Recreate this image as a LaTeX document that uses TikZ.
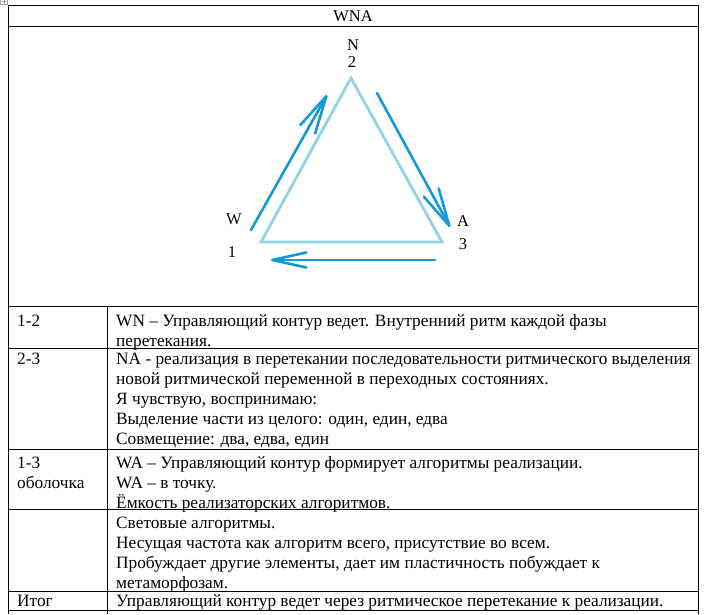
\documentclass[tikz,border=0pt]{standalone}
\usepackage{fontspec}
\setmainfont{Liberation Serif}
\usetikzlibrary{arrows.meta}
\definecolor{tri}{HTML}{90D4E4}
\definecolor{arr}{HTML}{139AD8}
\newcommand\cellbox[2]{\parbox[t]{#1}{\fontsize{17.3}{20}\selectfont\raggedright #2}}
\tikzset{
  grid/.style={draw=black, line width=1pt},
  txt/.style={inner sep=0pt, anchor=base west},
  lbl/.style={inner sep=0pt, anchor=base, font=\fontsize{16.5}{18}\selectfont},
  triline/.style={draw=tri, line width=2.8pt, line join=miter},
  flow/.style={draw=arr, line width=2.6pt, line cap=round, -{Straight Barb[length=38pt,width=17pt,round]}},
  flowb/.style={draw=arr, line width=2.6pt, line cap=round, -{Straight Barb[length=34pt,width=15pt,round]}}
}
\begin{document}
\begin{tikzpicture}[x=1pt,y=-1pt]
\useasboundingbox (0,0) rectangle (704,614);
\fill[white] (0,0) rectangle (704,614);
% table move handle
\draw[gray!70, line width=0.6pt] (0.5,-1) rectangle (7,4);
\draw[gray!80, line width=0.5pt] (2,1.5) -- (5.5,1.5) (3.75,0) -- (3.75,3.5);
% table grid
\draw[grid] (8,5.5) -- (698,5.5);
\draw[grid] (8,26) -- (698,26);
\draw[grid] (8,306) -- (698,306);
\draw[grid] (8,348) -- (698,348);
\draw[grid] (8,449) -- (698,449);
\draw[grid] (8,509) -- (698,509);
\draw[grid] (8,591) -- (698,591);
\draw[grid] (8,610) -- (698,610);
\draw[grid] (8,5) -- (8,614);
\draw[grid] (698,5) -- (698,614);
\draw[grid] (107,306) -- (107,614);
% header
\node[lbl] (wna) at (353,21.5) {WNA};
% triangle
\coordinate (v2) at (351,78);
\coordinate (v1) at (261,242);
\coordinate (v3) at (442,242);
\draw[triline] (v1) -- (v2) -- (v3) -- cycle;
% arrows
\coordinate (a1s) at (251,230);
\coordinate (a1e) at (327,95);
\coordinate (a2s) at (377,93);
\coordinate (a2e) at (450,227);
\coordinate (a3s) at (435,260);
\coordinate (a3e) at (271,260);
\draw[flow] (a1s) -- (a1e);
\draw[flow] (a2s) -- (a2e);
\draw[flowb] (a3s) -- (a3e);
% vertex labels
\node[lbl] (lN) at (353,50) {N};
\node[lbl] (l2) at (352,67) {2};
\node[lbl] (lW) at (234,224) {W};
\node[lbl] (l1) at (232,257) {1};
\node[lbl] (lA) at (463,226) {A};
\node[lbl] (l3) at (463,249) {3};
% column 1
\node[txt] (c12) at (17,326) {\cellbox{90pt}{1-2}};
\node[txt] (c23) at (17,364) {\cellbox{90pt}{2-3}};
\node[txt] (c13) at (17,468) {\cellbox{90pt}{1-3\\оболочка}};
\node[txt] (cit) at (17,606) {\cellbox{90pt}{Итог}};
% column 2
\node[txt] (d12) at (116,326) {\cellbox{600pt}{WN – Управляющий контур ведет. Внутренний ритм каждой фазы\\перетекания.}};
\node[txt] (d23) at (116,364) {\cellbox{600pt}{NA - реализация в перетекании последовательности ритмического выделения\\новой ритмической переменной в переходных состояниях.\\Я чувствую, воспринимаю:\\Выделение части из целого: один, един, едва\\Совмещение: два, едва, един}};
\node[txt] (d13) at (116,468) {\cellbox{600pt}{WA – Управляющий контур формирует алгоритмы реализации.\\WA – в точку.\\Ёмкость реализаторских алгоритмов.}};
\node[txt] (d4) at (116,528) {\cellbox{600pt}{Световые алгоритмы.\\Несущая частота как алгоритм всего, присутствие во всем.\\Пробуждает другие элементы, дает им пластичность побуждает к\\метаморфозам.}};
\node[txt] (dit) at (116,606) {\cellbox{600pt}{Управляющий контур ведет через ритмическое перетекание к реализации.}};
\end{tikzpicture}
\end{document}
